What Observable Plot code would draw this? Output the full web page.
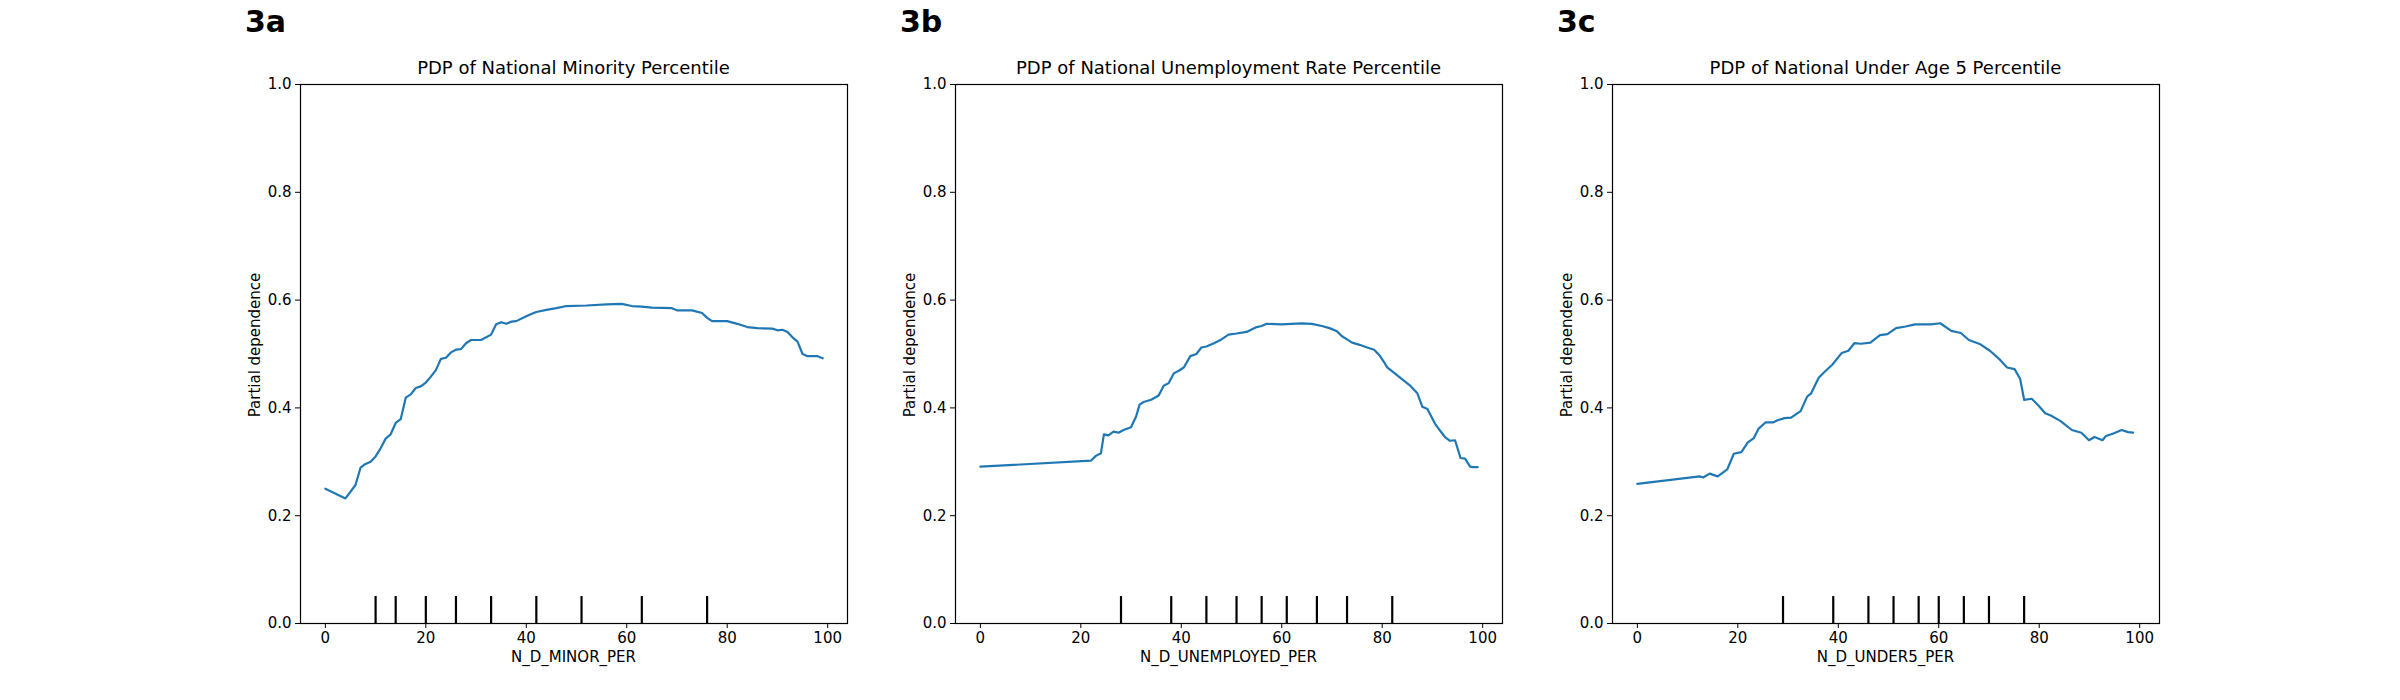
<!DOCTYPE html>
<html><head><meta charset="utf-8">
<script src="https://cdn.jsdelivr.net/npm/d3@7"></script>
<script src="https://cdn.jsdelivr.net/npm/@observablehq/plot@0.6"></script>
<style>
body{margin:0;background:#fff;font-family:"DejaVu Sans",sans-serif;}
#wrap{position:relative;width:2400px;height:700px;}
.abs{position:absolute;white-space:nowrap;}
.lab{font-size:30px;font-weight:bold;}
.ttl{font-size:18px;transform:translateX(-50%);}
.xl{font-size:15px;transform:translateX(-50%);}
.yl{font-size:15px;transform:translate(-50%,-50%) rotate(-90deg);}
svg{position:absolute;top:0;}
</style></head><body><div id="wrap"></div>
<script>
const minorX=[0,4,6,7,8,9,10,11,12,13,14,15,16,17,18,19,20,21,22,23,24,25,26,27,28,29,31,33,34,35,36,37,38,40,41,42,44,46,48,52,56,59,61,63,65,69,70,73,75,76,77,80,82,84,86,89,90,91,92,93,94,95,96,98,99];
const minorY=[0.25,0.232,0.257,0.289,0.296,0.30,0.31,0.325,0.343,0.351,0.372,0.379,0.419,0.425,0.437,0.44,0.447,0.458,0.47,0.491,0.493,0.503,0.508,0.509,0.52,0.526,0.526,0.536,0.555,0.559,0.556,0.56,0.561,0.57,0.574,0.578,0.582,0.585,0.589,0.59,0.592,0.593,0.589,0.588,0.586,0.585,0.581,0.581,0.576,0.567,0.561,0.561,0.556,0.55,0.548,0.547,0.544,0.545,0.541,0.531,0.523,0.5,0.496,0.496,0.492];
const minorDeciles=[10,14,20,26,33,42,51,63,76];

const unempX=[0,22,23,24,24.6,25.5,26.5,27.5,28.5,30,31,31.7,32.5,34,35.5,36.5,37.5,38.5,39.5,40.5,41.8,43,44,45,46.5,48,49.4,51,53,55,56,57,60,62,64,66,68,69.5,71,72,73,74,75.5,77,78.4,79.5,80.5,81,82.5,84,85.5,87,88,89,90.5,91.5,92.5,93.5,94.5,95.6,96.5,97.5,98,99];
const unempY=[0.291,0.302,0.311,0.316,0.351,0.349,0.356,0.354,0.359,0.364,0.384,0.406,0.411,0.415,0.423,0.441,0.446,0.464,0.469,0.475,0.496,0.5,0.512,0.514,0.52,0.527,0.536,0.538,0.541,0.55,0.552,0.556,0.555,0.556,0.557,0.556,0.552,0.548,0.542,0.533,0.527,0.521,0.517,0.512,0.508,0.497,0.483,0.475,0.464,0.453,0.442,0.427,0.402,0.398,0.371,0.358,0.346,0.339,0.34,0.307,0.306,0.291,0.29,0.29];
const unempDeciles=[28,38,45,51,56,61,67,73,82];

const u5X=[0,12.4,13.1,14.4,16,17.9,19.2,20.7,22,23.2,24.1,25.5,27,27.9,29.3,30.6,32.5,33.8,34.6,36.1,37.5,38.8,40.7,42,43.2,44.5,46.4,48.3,49.8,51.5,53.4,55.3,58.4,60.3,62.5,64.4,66,68.3,70.2,72,73.6,75.1,76.2,77,78.5,79.7,81.2,82.3,84.2,86.5,88.4,89.9,91,92.6,93.3,94.9,96.4,97.7,98.7];
const u5Y=[0.259,0.273,0.271,0.278,0.273,0.286,0.315,0.318,0.336,0.344,0.361,0.373,0.373,0.377,0.381,0.382,0.394,0.421,0.427,0.456,0.469,0.48,0.502,0.506,0.52,0.519,0.521,0.535,0.537,0.548,0.551,0.555,0.555,0.557,0.543,0.539,0.526,0.518,0.506,0.491,0.475,0.472,0.454,0.415,0.417,0.406,0.39,0.386,0.376,0.359,0.354,0.34,0.346,0.34,0.348,0.353,0.359,0.355,0.354];
const u5Deciles=[29,39,46,51,56,60,65,70,77];

const xTicks=[0,20,40,60,80,100];
const yTicks=[0,0.2,0.4,0.6,0.8,1.0];

const panels=[
 {tag:"3a",title:"PDP of National Minority Percentile",xlabel:"N_D_MINOR_PER",xs:minorX,ys:minorY,dec:minorDeciles,left:300},
 {tag:"3b",title:"PDP of National Unemployment Rate Percentile",xlabel:"N_D_UNEMPLOYED_PER",xs:unempX,ys:unempY,dec:unempDeciles,left:955},
 {tag:"3c",title:"PDP of National Under Age 5 Percentile",xlabel:"N_D_UNDER5_PER",xs:u5X,ys:u5Y,dec:u5Deciles,left:1612}
];
const wrap=document.getElementById("wrap");
const W=547, T=84, H=539, ML=100;
function add(cls,txt,x,y){const d=document.createElement("div");d.className="abs "+cls;d.textContent=txt;d.style.left=x+"px";d.style.top=y+"px";wrap.appendChild(d);}
for(const p of panels){
  const data=p.xs.map((x,i)=>({x,y:p.ys[i]}));
  const svg=Plot.plot({
    width:ML+W+60,height:700,marginLeft:ML,marginRight:60,marginTop:T,marginBottom:700-T-H,
    style:{fontFamily:"DejaVu Sans",fontSize:"15px",color:"#000",background:"transparent"},
    x:{domain:[-4.95,103.95],ticks:xTicks,tickFormat:d=>d,label:null,tickSize:5},
    y:{domain:[0,1],ticks:yTicks,tickFormat:d3.format(".1f"),label:null,tickSize:5},
    marks:[
      Plot.frame({stroke:"#000",strokeWidth:1.2}),
      Plot.ruleX(p.dec,{x:d=>d,y1:0,y2:0.05,stroke:"#000",strokeWidth:2.2}),
      Plot.line(data,{x:"x",y:"y",stroke:"#1f77b4",strokeWidth:2.2}),
      Plot.axisX({ticks:xTicks,tickFormat:d=>d,tickSize:5,tickPadding:4,fontSize:15,label:null}),
      Plot.axisY({ticks:yTicks,tickFormat:d3.format(".1f"),tickSize:5,tickPadding:4,fontSize:15,label:null})
    ]
  });
  svg.style.left=(p.left-ML)+"px";
  wrap.appendChild(svg);
  add("lab",p.tag,p.left-55,4);
  add("ttl",p.title,p.left+W/2,57);
  add("xl",p.xlabel,p.left+W/2,648);
  add("yl","Partial dependence",p.left-45,T+H/2-9);
}
</script></body></html>
